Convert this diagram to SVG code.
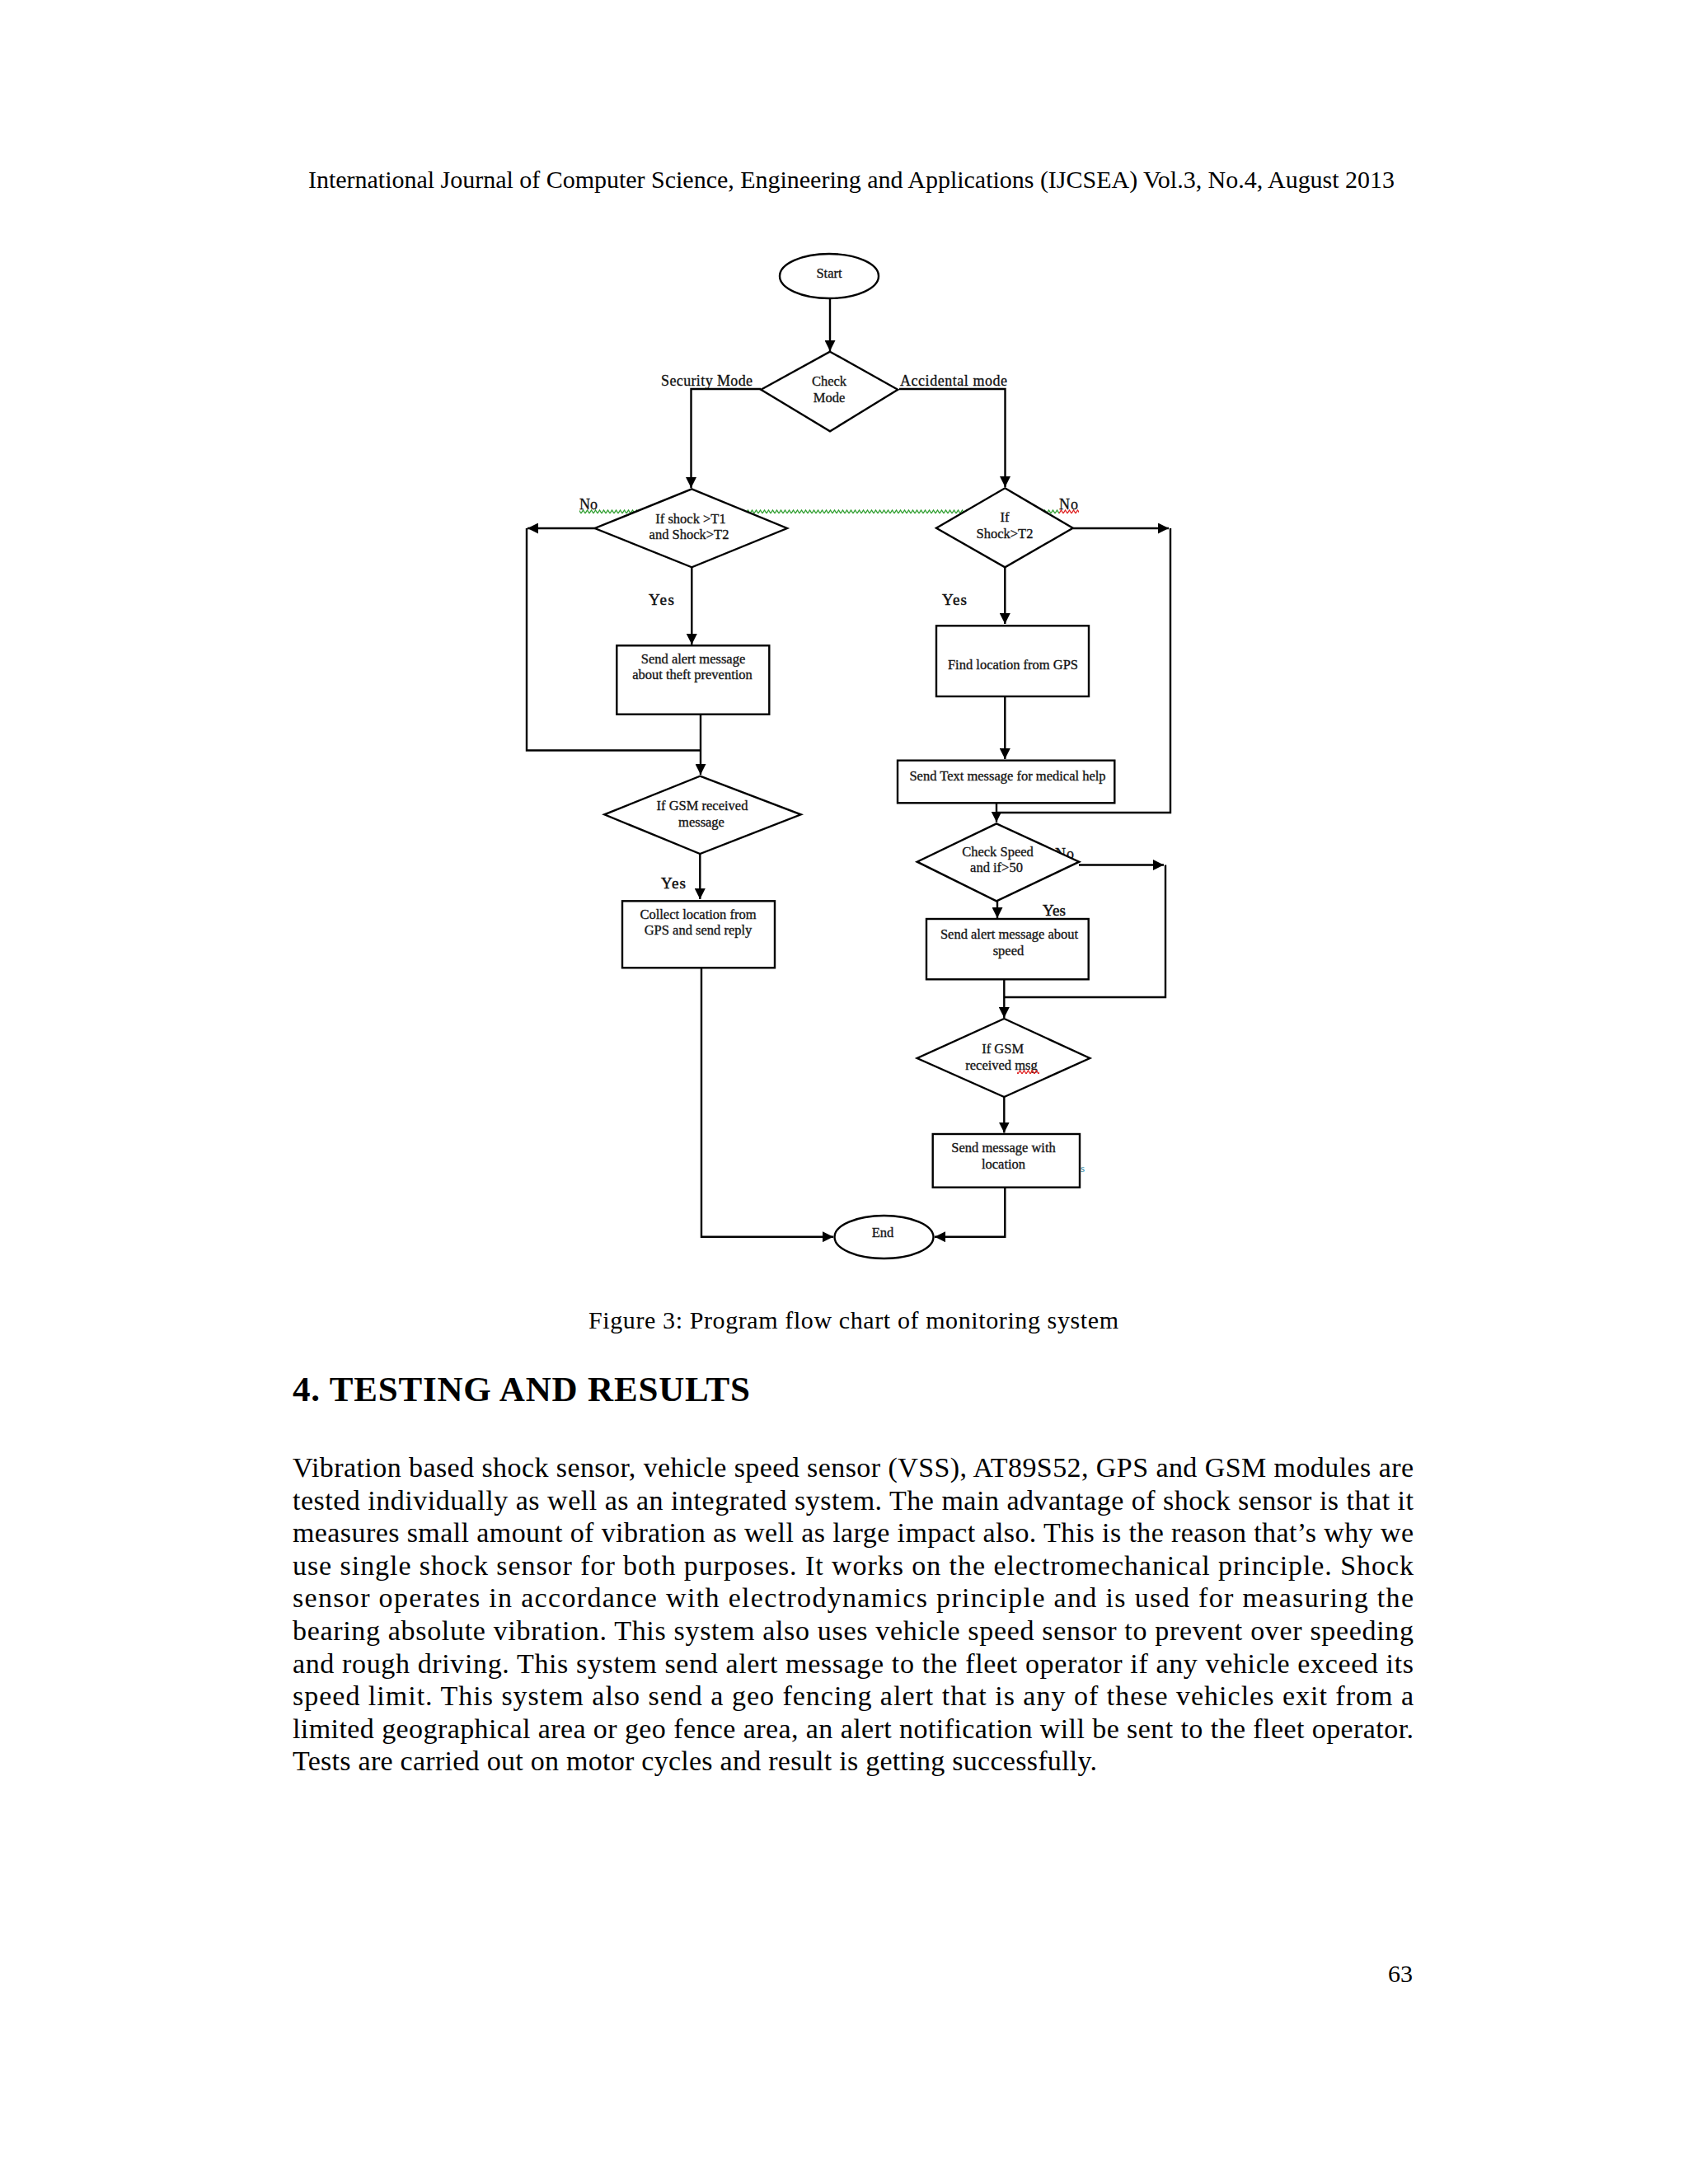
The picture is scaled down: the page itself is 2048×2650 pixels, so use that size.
<svg xmlns="http://www.w3.org/2000/svg" width="2048" height="2650" viewBox="0 0 2048 2650">
<defs>
<style>
.node{fill:#fff;stroke:#000;stroke-width:2.4}
.conn{fill:none;stroke:#000;stroke-width:2.4}
.nt{font-family:"Liberation Serif","Times New Roman",serif;font-size:16.5px;fill:#111;stroke:#222;stroke-width:0.35;text-anchor:middle}
.lb{font-family:"Liberation Serif","Times New Roman",serif;font-size:18px;fill:#111;stroke:#111;stroke-width:0.3}
.yes{font-family:"Liberation Serif","Times New Roman",serif;font-size:19px;fill:#111;stroke:#111;stroke-width:0.5}
.pg{font-family:"Liberation Serif","Times New Roman",serif;font-size:30px;fill:#000}
.bd{font-family:"Liberation Serif","Times New Roman",serif;font-size:34px;fill:#000}
.hd{font-family:"Liberation Serif","Times New Roman",serif;font-size:43px;font-weight:bold;fill:#000}
</style>
<marker id="ah" markerUnits="userSpaceOnUse" markerWidth="14" markerHeight="13" refX="13" refY="6.5" orient="auto">
<path d="M0,0 L13,6.5 L0,13 z" fill="#000"/>
</marker>
<pattern id="wg" patternUnits="userSpaceOnUse" x="0" y="618" width="5" height="6">
<path d="M0,5 L2.5,1 L5,5" fill="none" stroke="#2e9e2e" stroke-width="1.3"/>
</pattern>
<pattern id="wr" patternUnits="userSpaceOnUse" x="0" y="618" width="5" height="6">
<path d="M0,5 L2.5,1 L5,5" fill="none" stroke="#e02020" stroke-width="1.3"/>
</pattern>
<pattern id="wr2" patternUnits="userSpaceOnUse" x="0" y="1298" width="5" height="6">
<path d="M0,5 L2.5,1 L5,5" fill="none" stroke="#e02020" stroke-width="1.3"/>
</pattern>
</defs>
<rect x="0" y="0" width="2048" height="2650" fill="#fff"/>

<text class="pg" x="374" y="228" textLength="1318">International Journal of Computer Science, Engineering and Applications (IJCSEA) Vol.3, No.4, August 2013</text>

<g id="squiggles">
<rect x="703" y="618" width="582" height="6" fill="url(#wg)"/>
<rect x="1285" y="618" width="24" height="6" fill="url(#wr)"/>
</g>

<g id="labels">
<text class="lb" x="802" y="468" textLength="111">Security Mode</text>
<text class="lb" x="1092" y="468" textLength="130">Accidental mode</text>
<text class="lb" x="703" y="618" textLength="22">No</text>
<text class="lb" x="1285" y="618" textLength="23">No</text>
<text class="lb" x="1280" y="1042" textLength="23">No</text>
<text class="yes" x="787" y="734" textLength="31">Yes</text>
<text class="yes" x="1143" y="734" textLength="30">Yes</text>
<text class="yes" x="802" y="1078" textLength="30">Yes</text>
<text class="yes" x="1265" y="1111" textLength="28">Yes</text>
</g>

<g id="connectors">
<path class="conn" d="M1007,362 V426" marker-end="url(#ah)"/>
<path class="conn" d="M923,472 H838.5 V592" marker-end="url(#ah)"/>
<path class="conn" d="M1091,472 H1219.5 V591" marker-end="url(#ah)"/>
<path class="conn" d="M721.7,641 H640" marker-end="url(#ah)"/>
<path class="conn" d="M639,641 V910.5 H849.5"/>
<path class="conn" d="M839.3,688 V782" marker-end="url(#ah)"/>
<path class="conn" d="M850,866.7 V940" marker-end="url(#ah)"/>
<path class="conn" d="M849.3,1036 V1091" marker-end="url(#ah)"/>
<path class="conn" d="M851,1174.3 V1500.7 H1011" marker-end="url(#ah)"/>
<path class="conn" d="M1219.3,688 V757" marker-end="url(#ah)"/>
<path class="conn" d="M1301.7,641 H1418" marker-end="url(#ah)"/>
<path class="conn" d="M1420,641 V986 H1209"/>
<path class="conn" d="M1219.3,845 V921" marker-end="url(#ah)"/>
<path class="conn" d="M1209,974.3 V997.5" marker-end="url(#ah)"/>
<path class="conn" d="M1210,1093 V1114" marker-end="url(#ah)"/>
<path class="conn" d="M1309,1049.5 H1412" marker-end="url(#ah)"/>
<path class="conn" d="M1414,1049.5 V1210 H1218.3"/>
<path class="conn" d="M1218.3,1188.3 V1235" marker-end="url(#ah)"/>
<path class="conn" d="M1218.3,1331 V1374.5" marker-end="url(#ah)"/>
<path class="conn" d="M1219.3,1440.7 V1500.7 H1134" marker-end="url(#ah)"/>
</g>

<g id="start">
<ellipse class="node" cx="1006" cy="335" rx="60" ry="27"/>
<text class="nt" x="1006" y="337">Start</text>
</g>
<g id="check-mode">
<polygon class="node" points="1007,426.7 1089.3,472.7 1007,523.3 923.3,472.7"/>
<text class="nt" x="1006" y="468">Check</text>
<text class="nt" x="1006" y="488">Mode</text>
</g>
<g id="if-shock-t1-t2">
<polygon class="node" points="839.3,593.3 955,641 839.3,688.3 721.7,641"/>
<text class="nt" x="838" y="635">If shock &gt;T1</text>
<text class="nt" x="836" y="654">and Shock&gt;T2</text>
</g>
<g id="if-shock-t2">
<polygon class="node" points="1219.3,592.3 1301.7,640.7 1219.3,688.3 1136,640.7"/>
<text class="nt" x="1219" y="633">If</text>
<text class="nt" x="1219" y="653">Shock&gt;T2</text>
</g>
<g id="send-alert-theft">
<rect class="node" x="748.3" y="783.3" width="185" height="83.4"/>
<text class="nt" x="841" y="805">Send alert message</text>
<text class="nt" x="840" y="824">about theft prevention</text>
</g>
<g id="find-location">
<rect class="node" x="1136" y="759.3" width="185" height="85.7"/>
<text class="nt" x="1229" y="811.5">Find location from GPS</text>
</g>
<g id="if-gsm-message">
<polygon class="node" points="849.3,941.7 971.7,988.3 849.3,1036 733.3,988.3"/>
<text class="nt" x="852" y="983">If GSM received</text>
<text class="nt" x="851" y="1003">message</text>
</g>
<g id="send-text-medical">
<rect class="node" x="1089" y="922.7" width="263.3" height="51.6"/>
<text class="nt" x="1222.5" y="946.5">Send Text message for medical help</text>
</g>
<g id="check-speed">
<polygon class="node" points="1209,999.3 1309.3,1045.7 1209,1093.3 1112.7,1045.7"/>
<text class="nt" x="1210.5" y="1039">Check Speed</text>
<text class="nt" x="1209" y="1058">and if&gt;50</text>
</g>
<g id="collect-location">
<rect class="node" x="755" y="1093.3" width="185" height="81"/>
<text class="nt" x="847" y="1115">Collect location from</text>
<text class="nt" x="847" y="1134">GPS and send reply</text>
</g>
<g id="send-alert-speed">
<rect class="node" x="1124" y="1115" width="196.7" height="73.3"/>
<text class="nt" x="1224.5" y="1139">Send alert message about</text>
<text class="nt" x="1223.5" y="1159">speed</text>
</g>
<g id="if-gsm-msg">
<polygon class="node" points="1218.3,1236 1322.3,1284 1218.3,1331 1112.7,1284"/>
<text class="nt" x="1216.7" y="1278">If GSM</text>
<text class="nt" x="1215" y="1298">received msg</text>
<rect x="1234" y="1298" width="27" height="6" fill="url(#wr2)"/>
</g>
<g id="send-message-location">
<rect class="node" x="1131.7" y="1376" width="178.3" height="64.7"/>
<text class="nt" x="1217.5" y="1398">Send message with</text>
<text class="nt" x="1217.5" y="1417.5">location</text>
<text x="1311" y="1422" font-family="Liberation Serif, serif" font-size="13" fill="#1a7fa0">s</text>
</g>
<g id="end">
<ellipse class="node" cx="1072.5" cy="1501" rx="60" ry="26"/>
<text class="nt" x="1071" y="1501">End</text>
</g>

<text class="pg" x="714" y="1612" font-size="31.4" textLength="643">Figure 3: Program flow chart of monitoring system</text>
<text class="hd" x="355" y="1700" textLength="555">4. TESTING AND RESULTS</text>

<g id="body">
<text class="bd" x="355" y="1792" textLength="1360">Vibration based shock sensor, vehicle speed sensor (VSS), AT89S52, GPS and GSM modules are</text>
<text class="bd" x="355" y="1831.6" textLength="1360">tested individually as well as an integrated system. The main advantage of shock sensor is that it</text>
<text class="bd" x="355" y="1871.2" textLength="1360">measures small amount of vibration as well as large impact also. This is the reason that’s why we</text>
<text class="bd" x="355" y="1910.8" textLength="1360">use single shock sensor for both purposes. It works on the electromechanical principle. Shock</text>
<text class="bd" x="355" y="1950.4" textLength="1360">sensor operates in accordance with electrodynamics principle and is used for measuring the</text>
<text class="bd" x="355" y="1990" textLength="1360">bearing absolute vibration. This system also uses vehicle speed sensor to prevent over speeding</text>
<text class="bd" x="355" y="2029.6" textLength="1360">and rough driving. This system send alert message to the fleet operator if any vehicle exceed its</text>
<text class="bd" x="355" y="2069.2" textLength="1360">speed limit. This system also send a geo fencing alert that is any of these vehicles exit from a</text>
<text class="bd" x="355" y="2108.8" textLength="1360">limited geographical area or geo fence area, an alert notification will be sent to the fleet operator.</text>
<text class="bd" x="355" y="2148.4" textLength="976">Tests are carried out on motor cycles and result is getting successfully.</text>
</g>

<text class="pg" x="1714" y="2405" text-anchor="end">63</text>
</svg>
